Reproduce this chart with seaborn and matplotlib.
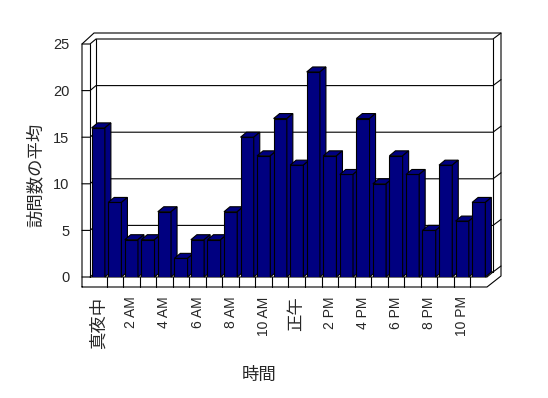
import seaborn as sns
import matplotlib.pyplot as plt
import pandas as pd
import numpy as np

hours = ['真夜中', '1 AM', '2 AM', '3 AM', '4 AM', '5 AM', '6 AM', '7 AM',
         '8 AM', '9 AM', '10 AM', '11 AM', '正午', '1 PM', '2 PM', '3 PM',
         '4 PM', '5 PM', '6 PM', '7 PM', '8 PM', '9 PM', '10 PM', '11 PM']
visits = [16, 8, 4, 4, 7, 2, 4, 4, 7, 15, 13, 17, 12, 22, 13, 11, 17, 10, 13, 11, 5, 12, 6, 8]
yticks = [0, 5, 10, 15, 20, 25]

df = pd.DataFrame({'時間': hours, '訪問数の平均': visits})

sns.set_style('white')
plt.rcParams['font.family'] = ['Liberation Sans', 'Noto Sans CJK JP', 'DejaVu Sans']

navy = '#000080'
fig = plt.figure(figsize=(5.48, 3.98), dpi=100)
ax = fig.add_axes([90 / 548, 1 - 277 / 398, 397 / 548, 233 / 398])

sns.barplot(data=df, x='時間', y='訪問数の平均', order=hours, color=navy, saturation=1,
            width=0.8, edgecolor='black', linewidth=0.8, ax=ax)

ax.set_xlim(-0.5, len(hours) - 0.5)
ax.set_ylim(0, 25)
for s in ax.spines.values():
    s.set_visible(False)
ax.set_xlabel('')
ax.set_ylabel('')

# pixel -> data helpers for the fake 3d frame
o = ax.transData.transform((0, 0))
sx, sy = ax.transData.transform((1, 1)) - o


def P(x, y, dx=0, dy=0):
    return (x + dx / sx, y + dy / sy)


def line(pts, z=1, lw=0.8):
    xs, ys = zip(*pts)
    ax.plot(xs, ys, color='black', lw=lw, zorder=z, clip_on=False, solid_joinstyle='miter')


X0, X1 = -0.5, len(hours) - 0.5
Y0, Y1 = 0, 25

# outline of walls + floor
line([P(X0, Y0, -8, -10), P(X0, Y1, -8, 0), P(X0, Y1, 4, 11), P(X1, Y1, 14, 11),
      P(X1, Y0, 14, 1), P(X1, Y0, 0, -10), P(X0, Y0, -8, -10)])
line([P(X0, Y0), P(X0, Y1)])
line([P(X0, Y0, 6, 5), P(X0, Y1, 6, 5)])
line([P(X1, Y0, 6, 5), P(X1, Y1, 6, 5)])
for lv in yticks:
    line([P(X0, lv, -8, 0), P(X0, lv), P(X0, lv, 6, 5), P(X1, lv, 6, 5), P(X1, lv, 14, 11)])

# floor
line([P(X0, Y0), P(X1, Y0), P(X1, Y0, 6, 5)])
for k in range(1, len(hours)):
    line([P(X0 + k, Y0), P(X0 + k, Y0, 0, -10)])

# top and side faces of the bars
dx, dy = 6, 5
for i, p in enumerate(ax.patches):
    x0, w, h = p.get_x(), p.get_width(), p.get_height()
    p.set_zorder(3 + i * 0.01)
    top = [P(x0, h), P(x0 + w, h), P(x0 + w, h, dx, dy), P(x0, h, dx, dy)]
    side = [P(x0 + w, 0), P(x0 + w, 0, dx, dy), P(x0 + w, h, dx, dy), P(x0 + w, h)]
    for poly in (top, side):
        ax.add_patch(plt.Polygon(poly, closed=True, facecolor=navy, edgecolor='black',
                                 lw=0.8, zorder=3 + i * 0.01 + 0.001, clip_on=False))

ax.set_yticks(yticks)
ax.set_yticklabels([str(v) for v in yticks], fontsize=10.5)
ax.set_xticks(range(0, len(hours), 2))
ax.set_xticklabels(hours[::2], rotation=90, fontsize=10, va='top')
for lbl in ax.get_xticklabels():
    if not lbl.get_text()[0].isdigit():
        lbl.set_fontsize(12.5)
ax.tick_params(axis='y', length=0, pad=15)
ax.tick_params(axis='x', length=0, pad=14)

fig.text(259 / 548, 1 - 375 / 398, '時間', fontsize=12.5, ha='center', va='center')
fig.text(35 / 548, 1 - 175 / 398, '訪問数の平均', fontsize=12.5, rotation=90,
         ha='center', va='center')

fig.savefig('out.png', dpi=100, facecolor='white')
